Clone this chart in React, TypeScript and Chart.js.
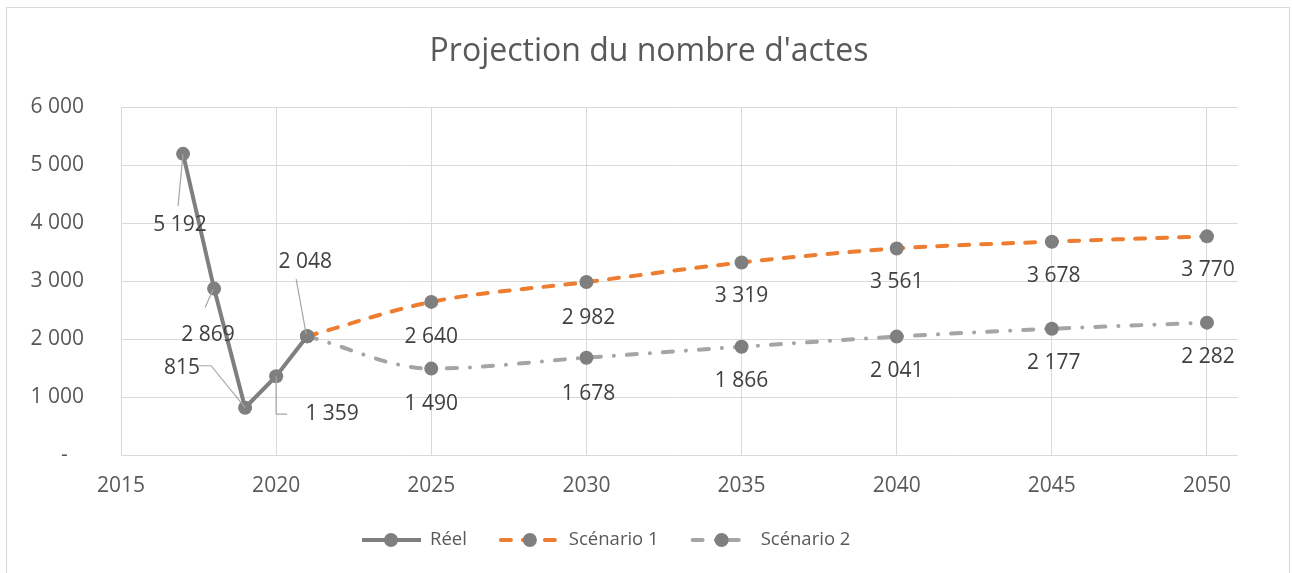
import React, { useEffect, useRef } from "react";
import { Chart, registerables } from "chart.js";

Chart.register(...registerables);

// ---------- data ----------
const TITLE = "Projection du nombre d'actes";
const seriesLabels = ["Réel", "Scénario 1", "Scénario 2"];
const reelYears = [2017, 2018, 2019, 2020, 2021];
const reelValues = [5192, 2869, 815, 1359, 2048];
const scenarioYears = [2021, 2025, 2030, 2035, 2040, 2045, 2050];
const scenario1Values = [2048, 2640, 2982, 3319, 3561, 3678, 3770];
const scenario2Values = [2048, 1490, 1678, 1866, 2041, 2177, 2282];
const xTickYears = [2015, 2020, 2025, 2030, 2035, 2040, 2045, 2050];
const yTickValues = [0, 1000, 2000, 3000, 4000, 5000, 6000];

// ---------- styles ----------
const FONT = "'Open Sans', 'DejaVu Sans', sans-serif";
const GREY = "#7f7f7f";
const ORANGE = "#ED7D31";
const LIGHT = "#a5a5a5";
const TEXT = "#595959";
const LABEL = "#404040";

// label placement (offsets from the point, in px) and leader lines
type LabelPos = { dx: number; dy: number; leader?: number[][] } | null;
const reelLabelPos: LabelPos[] = [
  { dx: -3, dy: 71, leader: [[0, 0], [-5, 52]] },
  { dx: -6, dy: 46, leader: [[-1, 1], [-9, 19]] },
  { dx: -63, dy: -40, leader: [[-46, -42], [-34, -42], [0, 0]] },
  { dx: 56, dy: 38, leader: [[0, 0], [0, 38], [11, 38]] },
  { dx: -2, dy: -74, leader: [[-11, -57], [-1, -2]] },
];
const scenarioLabelPos: LabelPos[] = [
  null,
  { dx: 0, dy: 35 },
  { dx: 2, dy: 36 },
  { dx: 0, dy: 34 },
  { dx: 0, dy: 34 },
  { dx: 2, dy: 34 },
  { dx: 1, dy: 34 },
];

const fmt = (n: number) =>
  n === 0 ? "-   " : String(n).replace(/\B(?=(\d{3})+(?!\d))/g, " ");

const titlePlugin = {
  id: "customTitle",
  afterDraw(chart: any) {
    const ctx = chart.ctx;
    ctx.save();
    ctx.font = `32px ${FONT}`;
    ctx.fillStyle = TEXT;
    ctx.textAlign = "center";
    ctx.textBaseline = "middle";
    ctx.fillText(TITLE, 649, 52);
    ctx.restore();
  },
};

const labelPlugin = {
  id: "dataLabels",
  afterDatasetsDraw(chart: any) {
    const ctx = chart.ctx;
    const posSets = [reelLabelPos, scenarioLabelPos, scenarioLabelPos];
    ctx.save();
    chart.data.datasets.forEach((ds: any, i: number) => {
      const meta = chart.getDatasetMeta(i);
      meta.data.forEach((pt: any, j: number) => {
        const pos = posSets[i][j];
        if (!pos) return;
        const v = ds.data[j].y;
        if (pos.leader) {
          ctx.beginPath();
          ctx.strokeStyle = "#a6a6a6";
          ctx.lineWidth = 1.2;
          pos.leader.forEach((p, k) => {
            const x = pt.x + p[0];
            const y = pt.y + p[1];
            if (k === 0) ctx.moveTo(x, y);
            else ctx.lineTo(x, y);
          });
          ctx.stroke();
        }
        ctx.fillStyle = LABEL;
        ctx.font = `21px ${FONT}`;
        ctx.textAlign = "center";
        ctx.textBaseline = "middle";
        ctx.fillText(fmt(v), pt.x + pos.dx, pt.y + pos.dy);
      });
    });
    ctx.restore();
  },
};

const legendPlugin = {
  id: "customLegend",
  afterDraw(chart: any) {
    const ctx = chart.ctx;
    const y = 540;
    let x = 362;
    ctx.save();
    ctx.font = `18.5px ${FONT}`;
    chart.data.datasets.forEach((ds: any) => {
      ctx.beginPath();
      ctx.strokeStyle = ds.borderColor;
      ctx.lineWidth = ds.borderWidth;
      ctx.lineCap = ds.borderCapStyle || "butt";
      ctx.setLineDash(ds.borderDash || []);
      ctx.moveTo(x, y);
      ctx.lineTo(x + 59, y);
      ctx.stroke();
      ctx.setLineDash([]);
      ctx.beginPath();
      ctx.fillStyle = GREY;
      ctx.arc(x + 29, y, 7, 0, Math.PI * 2);
      ctx.fill();
      ctx.fillStyle = TEXT;
      ctx.textAlign = "left";
      ctx.textBaseline = "middle";
      ctx.fillText(ds.label, x + 68, y);
      x = x + 68 + ctx.measureText(ds.label).width + 34;
    });
    ctx.restore();
  },
};

export default function App() {
  const ref = useRef<HTMLCanvasElement | null>(null);

  useEffect(() => {
    if (!ref.current) return;
    const chart = new Chart(ref.current, {
      type: "line",
      data: {
        datasets: [
          {
            label: seriesLabels[0],
            data: reelYears.map((x, i) => ({ x, y: reelValues[i] })),
            borderColor: GREY,
            backgroundColor: GREY,
            borderWidth: 4,
            tension: 0,
            pointRadius: 7,
            pointBackgroundColor: GREY,
            pointBorderWidth: 0,
            order: 0,
          },
          {
            label: seriesLabels[1],
            data: scenarioYears.map((x, i) => ({ x, y: scenario1Values[i] })),
            borderColor: ORANGE,
            backgroundColor: ORANGE,
            borderWidth: 4,
            borderDash: [10, 12],
            borderCapStyle: "round",
            cubicInterpolationMode: "monotone",
            pointRadius: 7,
            pointBackgroundColor: GREY,
            pointBorderWidth: 0,
            order: 1,
          },
          {
            label: seriesLabels[2],
            data: scenarioYears.map((x, i) => ({ x, y: scenario2Values[i] })),
            borderColor: LIGHT,
            backgroundColor: LIGHT,
            borderWidth: 4,
            borderDash: [10, 13, 0.1, 13],
            borderCapStyle: "round",
            cubicInterpolationMode: "monotone",
            pointRadius: 7,
            pointBackgroundColor: GREY,
            pointBorderWidth: 0,
            order: 2,
          },
        ],
      },
      options: {
        animation: false,
        responsive: false,
        events: [],
        layout: { padding: { left: 0, right: 54, top: 107, bottom: 58 } },
        plugins: {
          legend: { display: false },
          tooltip: { enabled: false },
          title: { display: false },
        },
        scales: {
          x: {
            type: "linear",
            min: 2015,
            max: 2051,
            afterBuildTicks: (scale: any) => {
              scale.ticks = xTickYears.map((v) => ({ value: v }));
            },
            afterFit: (scale: any) => {
              scale.height = 60;
            },
            ticks: {
              color: TEXT,
              font: { family: FONT, size: 21 },
              padding: 18,
              maxRotation: 0,
              autoSkip: false,
              callback: (v: any) => String(v),
            },
            grid: { color: "#d9d9d9", lineWidth: 1, drawTicks: false },
            border: { display: false },
          },
          y: {
            type: "linear",
            min: 0,
            max: 6000,
            afterBuildTicks: (scale: any) => {
              scale.ticks = yTickValues.map((v) => ({ value: v }));
            },
            afterFit: (scale: any) => {
              scale.width = 121;
            },
            ticks: {
              color: TEXT,
              font: { family: FONT, size: 21 },
              padding: 37,
              callback: (v: any) => fmt(Number(v)),
            },
            grid: { color: "#d9d9d9", lineWidth: 1, drawTicks: false },
            border: { display: false },
          },
        },
      },
      plugins: [titlePlugin, labelPlugin, legendPlugin],
    } as any);
    return () => chart.destroy();
  }, []);

  return (
    <div style={{ position: "fixed", left: 0, top: 0, width: 1292, height: 573, background: "#fff" }}>
      <div
        style={{
          position: "absolute",
          left: 6,
          top: 7,
          width: 1284,
          height: 600,
          border: "1px solid #d9d9d9",
          boxSizing: "border-box",
        }}
      />
      <canvas
        ref={ref}
        width={1292}
        height={573}
        style={{ position: "absolute", left: 0, top: 0, width: 1292, height: 573 }}
      />
    </div>
  );
}
